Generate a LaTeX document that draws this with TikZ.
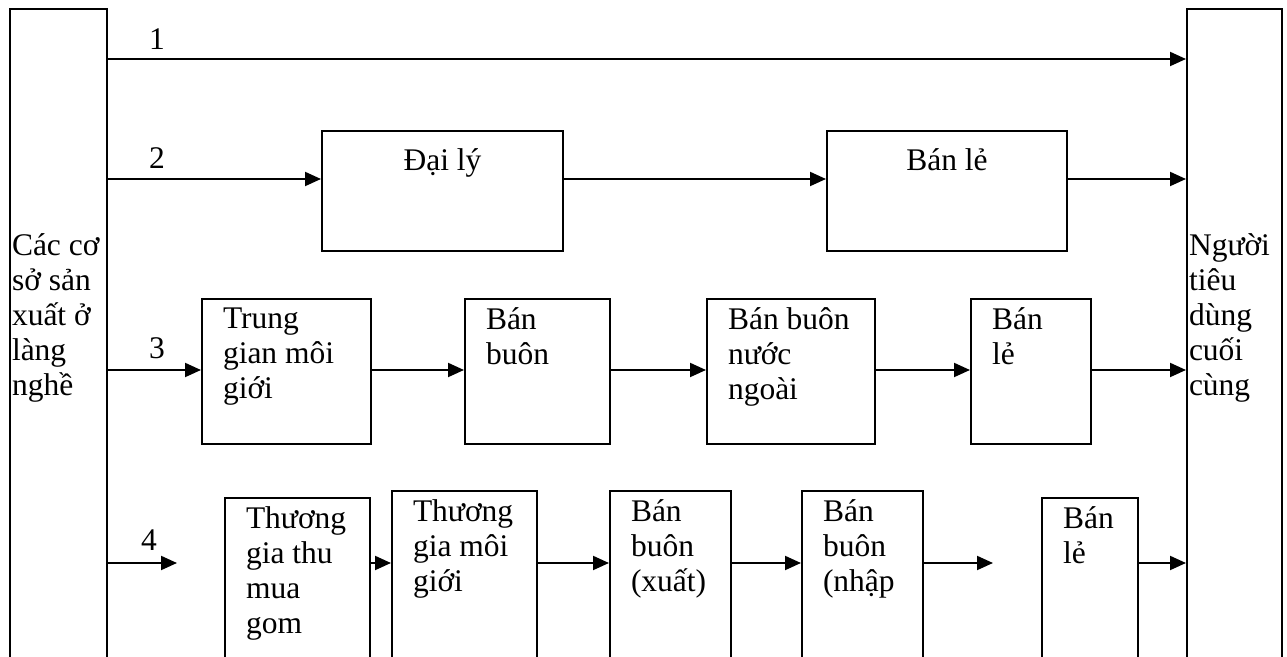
\documentclass[tikz,border=0pt]{standalone}
\usepackage{fontspec}
\setmainfont{Liberation Serif}
\usetikzlibrary{arrows.meta}

\begin{document}
\begin{tikzpicture}[x=0.5pt, y=-0.5pt, line width=1pt,
  >={Triangle[length=8pt,width=7pt]},
  box/.style={shape=rectangle, draw, anchor=north west, inner sep=0pt},
  txt/.style={anchor=north west, align=left, inner sep=0pt,
    font={\fontsize{15.75pt}{17.5pt}\selectfont}, execute at begin node={\rule{0pt}{15pt}}},
  intxt/.style={txt, xshift=10.5pt, yshift=-4.5pt},
  num/.style={anchor=base, inner sep=0pt, font={\fontsize{15.75pt}{17.5pt}\selectfont}}]
    \useasboundingbox (0,0) rectangle (1287,657);
    \clip (0,0) rectangle (1287,657);

    % the two tall columns
    \node[box, minimum width=48.5pt, minimum height=356pt] (src) at (9,8) {};
    \node[box, minimum width=47.5pt, minimum height=356pt] (dst) at (1186,8) {};
    \node[txt] (srctxt) at (11,233) {Các cơ\\sở sản\\xuất ở\\làng\\nghề};
    \node[txt] (dsttxt) at (1188,233) {Người\\tiêu\\dùng\\cuối\\cùng};

    \coordinate (r1) at (0,59);
    \coordinate (r2) at (0,179);
    \coordinate (r3) at (0,370);
    \coordinate (r4) at (0,563);

    % 1
    \node[num] (n1) at (157,50) {1};
    \draw[->] (src.east |- r1) -- (dst.west |- r1);

    % 2
    \node[num] (n2) at (157,169) {2};
    \node[box, minimum width=120.5pt, minimum height=60pt] (dl) at (321,130) {};
    \node[box, minimum width=120pt, minimum height=60pt] (bl2) at (826,130) {};
    \node[txt, anchor=north, yshift=-5pt] (dltxt) at (dl.north) {Đại lý};
    \node[txt, anchor=north, yshift=-5pt] (bl2txt) at (bl2.north) {Bán lẻ};
    \draw[->] (src.east |- r2) -- (dl.west |- r2);
    \draw[->] (dl.east |- r2) -- (bl2.west |- r2);
    \draw[->] (bl2.east |- r2) -- (dst.west |- r2);

    % 3
    \node[num] (n3) at (157,359) {3};
    \node[box, minimum width=84.5pt, minimum height=72.5pt] (tg) at (201,298) {};
    \node[box, minimum width=72.5pt, minimum height=72.5pt] (bb) at (464,298) {};
    \node[box, minimum width=84pt, minimum height=72.5pt] (bbnn) at (706,298) {};
    \node[box, minimum width=60pt, minimum height=72.5pt] (bl3) at (970,298) {};
    \node[intxt] (tgtxt) at (tg.north west) {Trung\\gian môi\\giới};
    \node[intxt] (bbtxt) at (bb.north west) {Bán\\buôn};
    \node[intxt] (bbnntxt) at (bbnn.north west) {Bán buôn\\nước\\ngoài};
    \node[intxt] (bl3txt) at (bl3.north west) {Bán\\lẻ};
    \draw[->] (src.east |- r3) -- (tg.west |- r3);
    \draw[->] (tg.east |- r3) -- (bb.west |- r3);
    \draw[->] (bb.east |- r3) -- (bbnn.west |- r3);
    \draw[->] (bbnn.east |- r3) -- (bl3.west |- r3);
    \draw[->] (bl3.east |- r3) -- (dst.west |- r3);

    % 4
    \node[num] (n4) at (149,551) {4};
    \node[box, minimum width=72.5pt, minimum height=111.5pt] (tm) at (224,497) {};
    \node[box, minimum width=72.5pt, minimum height=115pt] (mg) at (391,490) {};
    \node[box, minimum width=60.5pt, minimum height=115pt] (bbx) at (609,490) {};
    \node[box, minimum width=60.5pt, minimum height=115pt] (bbn) at (801,490) {};
    \node[box, minimum width=48pt, minimum height=111.5pt] (bl4) at (1041,497) {};
    \node[intxt] (tmtxt) at (tm.north west) {Thương\\gia thu\\mua\\gom};
    \node[intxt] (mgtxt) at (mg.north west) {Thương\\gia môi\\giới};
    \node[intxt] (bbxtxt) at (bbx.north west) {Bán\\buôn\\(xuất)};
    \node[intxt] (bbntxt) at (bbn.north west) {Bán\\buôn\\(nhập};
    \node[intxt] (bl4txt) at (bl4.north west) {Bán\\lẻ};
    \coordinate (f4) at (177,563);
    \coordinate (g4) at (993,563);
    \draw[->] (src.east |- r4) -- (f4);
    \draw[->] (tm.east |- r4) -- (mg.west |- r4);
    \draw[->] (mg.east |- r4) -- (bbx.west |- r4);
    \draw[->] (bbx.east |- r4) -- (bbn.west |- r4);
    \draw[->] (bbn.east |- r4) -- (g4);
    \draw[->] (bl4.east |- r4) -- (dst.west |- r4);
  \end{tikzpicture}
\end{document}
